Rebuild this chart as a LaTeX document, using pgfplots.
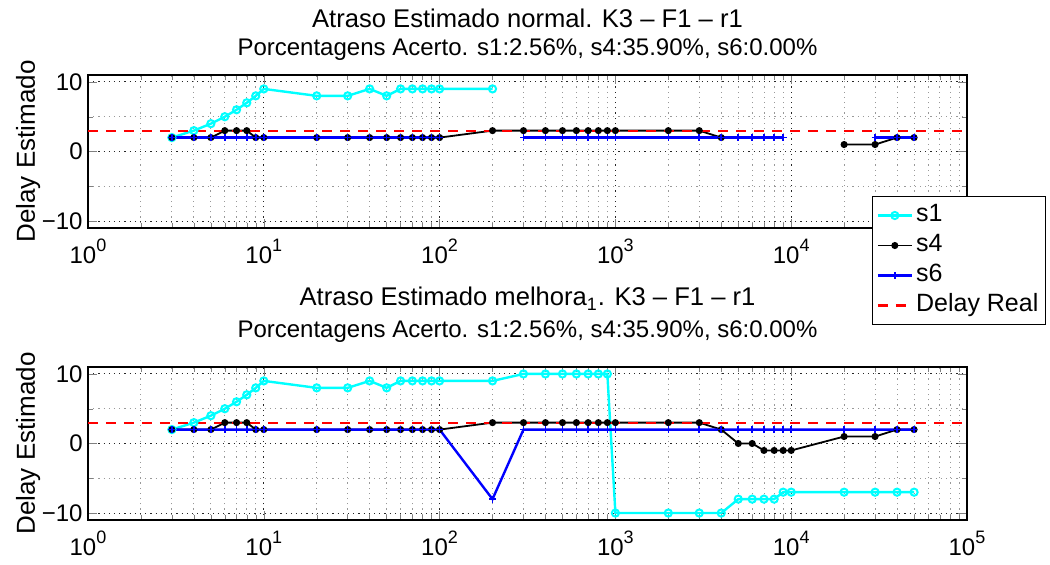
\documentclass[border=0pt]{standalone}
\usepackage{fontspec}
\setmainfont{Liberation Sans}
\usepackage{pgfplots}
\pgfplotsset{compat=1.18}
\usepackage{pgfplotstable}

\definecolor{mcyan}{RGB}{0,255,255}
\definecolor{mblue}{RGB}{0,0,255}
\definecolor{mred}{RGB}{255,0,0}

% Estimated delay per window length (nan = no estimate)
\pgfplotstableread{
x     sa   sd   sf
3     2    2    2
4     3    2    2
5     4    2    2
6     5    3    2
7     6    3    2
8     7    3    2
9     8    2    2
10    9    2    2
20    8    2    2
30    8    2    2
40    9    2    2
50    8    2    2
60    9    2    2
70    9    2    2
80    9    2    2
90    9    2    2
100   9    2    2
200   9    3    nan
300   nan  3    2
400   nan  3    2
500   nan  3    2
600   nan  3    2
700   nan  3    2
800   nan  3    2
900   nan  3    2
1000  nan  3    2
2000  nan  3    2
3000  nan  3    2
4000  nan  2    2
5000  nan  nan  2
6000  nan  nan  2
7000  nan  nan  2
8000  nan  nan  2
9000  nan  nan  2
10000 nan  nan  nan
20000 nan  1    nan
30000 nan  1    2
40000 nan  2    2
50000 nan  2    2
}\normaltab

\pgfplotstableread{
x     sa   sd   sf
3     2    2    2
4     3    2    2
5     4    2    2
6     5    3    2
7     6    3    2
8     7    3    2
9     8    2    2
10    9    2    2
20    8    2    2
30    8    2    2
40    9    2    2
50    8    2    2
60    9    2    2
70    9    2    2
80    9    2    2
90    9    2    2
100   9    2    2
200   9    3    -8
300   10   3    2
400   10   3    2
500   10   3    2
600   10   3    2
700   10   3    2
800   10   3    2
900   10   3    2
1000  -10  3    2
2000  -10  3    2
3000  -10  3    2
4000  -10  2    2
5000  -8   0    2
6000  -8   0    2
7000  -8   -1   2
8000  -8   -1   2
9000  -7   -1   2
10000 -7   -1   2
20000 -7   1    2
30000 -7   1    2
40000 -7   2    2
50000 -7   2    2
}\melhoratab

\newcommand{\dec}[1]{10\raisebox{6.4pt}{\fontsize{9}{9}\selectfont #1}}
\newcommand{\titlefirst}{\fontsize{12.8}{14}\selectfont}

\tikzset{
  serieA/.style={mcyan, line width=1.2pt, mark=o, mark size=1.8pt,
    mark options={solid, line width=1pt}},
  serieD/.style={black, line width=0.9pt, mark=*, mark size=1.3pt,
    mark options={solid}},
  serieF/.style={mblue, line width=1.2pt, mark=+, mark size=1.7pt,
    mark options={solid, line width=0.8pt}},
  serieReal/.style={mred, line width=1.1pt, dash pattern=on 5pt off 4pt},
}

\begin{document}
\begin{tikzpicture}
\useasboundingbox (-44pt,-245pt) rectangle (481pt,37.5pt);

\begin{axis}[
  at={(0pt,0pt)}, anchor=north west,
  xmode=log, xmin=1, xmax=100000, ymin=-11, ymax=11,
  scale only axis, width=439.5pt, height=76.5pt,
  xtick={1,10,100,1000,10000,100000},
  xticklabels={\dec{0},\dec{1},\dec{2},\dec{3},\dec{4},\dec{5}},
  minor xtick={2,3,4,5,6,7,8,9,20,30,40,50,60,70,80,90,200,300,400,500,600,700,800,900,2000,3000,4000,5000,6000,7000,8000,9000,20000,30000,40000,50000,60000,70000,80000,90000},
  ytick={-10,0,10}, yticklabels={−10,0,10},
  minor ytick={-5,5},
  grid=both,
  major grid style={black!85, line width=0.45pt, dash pattern=on 0.6pt off 2pt},
  minor grid style={black!40, line width=0.45pt, dash pattern=on 0.6pt off 2pt},
  axis line style={line width=0.6pt},
  major tick length=4.4pt, minor tick length=2.5pt,
  tick align=inside,
  unbounded coords=jump,
  tick label style={font=\fontsize{12}{14}\selectfont},
  xticklabel style={anchor=base, yshift=-18pt},
  yticklabel style={inner sep=0pt, xshift=-2.5pt},
  ylabel={Delay Estimado},
  ylabel style={at={(axis description cs:-0.0603,0.5)}, anchor=base,
    font=\fontsize{13}{15}\selectfont},
  title={{\titlefirst Atraso Estimado normal. K3 – F1 – r1}\\Porcentagens Acerto. s1:2.56\%, s4:35.90\%, s6:0.00\%},
  title style={align=center, anchor=south, at={(axis description cs:0.5,1)},
    yshift=-2.5pt, font=\fontsize{12}{14}\selectfont},
  legend cell align=left,
  legend style={at={(axis description cs:0.892,0.209)}, anchor=north west, draw=black,
    line width=0.5pt, fill=white, font=\fontsize{12.5}{14}\selectfont,
    inner xsep=2pt, inner ysep=2pt, row sep=0pt,
    nodes={inner sep=1.5pt, text height=9pt, text depth=3pt}},
]
\addplot[serieA] table[x=x, y=sa] {\normaltab};
\addplot[serieD] table[x=x, y=sd] {\normaltab};
\addplot[serieF] table[x=x, y=sf] {\normaltab};
\addplot[serieReal] coordinates {(1,3) (100000,3)};
\legend{s1, s4, s6, Delay Real}
\end{axis}

\begin{axis}[
  at={(0pt,-146pt)}, anchor=north west,
  xmode=log, xmin=1, xmax=100000, ymin=-11, ymax=11,
  scale only axis, width=439.5pt, height=76.5pt,
  xtick={1,10,100,1000,10000,100000},
  xticklabels={\dec{0},\dec{1},\dec{2},\dec{3},\dec{4},\dec{5}},
  minor xtick={2,3,4,5,6,7,8,9,20,30,40,50,60,70,80,90,200,300,400,500,600,700,800,900,2000,3000,4000,5000,6000,7000,8000,9000,20000,30000,40000,50000,60000,70000,80000,90000},
  ytick={-10,0,10}, yticklabels={−10,0,10},
  minor ytick={-5,5},
  grid=both,
  major grid style={black!85, line width=0.45pt, dash pattern=on 0.6pt off 2pt},
  minor grid style={black!40, line width=0.45pt, dash pattern=on 0.6pt off 2pt},
  axis line style={line width=0.6pt},
  major tick length=4.4pt, minor tick length=2.5pt,
  tick align=inside,
  unbounded coords=jump,
  tick label style={font=\fontsize{12}{14}\selectfont},
  xticklabel style={anchor=base, yshift=-18pt},
  yticklabel style={inner sep=0pt, xshift=-2.5pt},
  ylabel={Delay Estimado},
  ylabel style={at={(axis description cs:-0.0603,0.5)}, anchor=base,
    font=\fontsize{13}{15}\selectfont},
  title={{\titlefirst Atraso Estimado melhora\textsubscript{1}. K3 – F1 – r1}\\[2pt]Porcentagens Acerto. s1:2.56\%, s4:35.90\%, s6:0.00\%},
  title style={align=center, anchor=south, at={(axis description cs:0.5,1)},
    yshift=2.5pt, font=\fontsize{12}{14}\selectfont},
]
\addplot[serieA] table[x=x, y=sa] {\melhoratab};
\addplot[serieD] table[x=x, y=sd] {\melhoratab};
\addplot[serieF] table[x=x, y=sf] {\melhoratab};
\addplot[serieReal] coordinates {(1,3) (100000,3)};
\end{axis}
\end{tikzpicture}
\end{document}
